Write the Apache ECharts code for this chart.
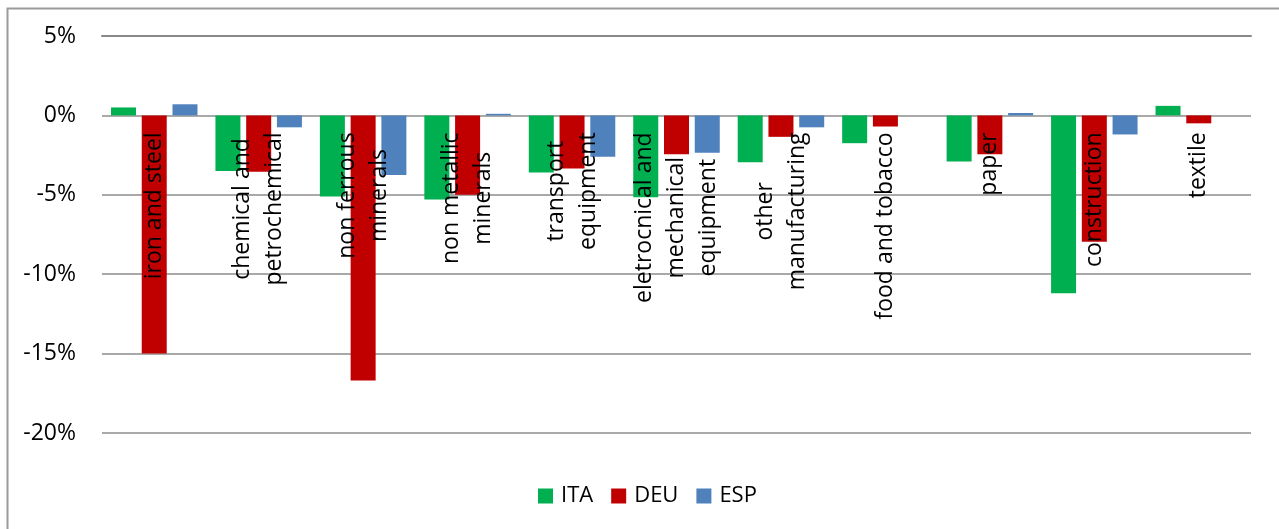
<!DOCTYPE html>
<html>
<head>
<meta charset="utf-8">
<style>
  html, body { margin: 0; padding: 0; background: #ffffff; }
  #chart { width: 1279px; height: 529px; }
</style>
<script src="https://cdn.jsdelivr.net/npm/echarts@6/dist/echarts.min.js"></script>
</head>
<body>
<div id="chart"></div>
<script>
// Sectors (line breaks as shown under each group)
const categories = [
  'iron and steel',
  'chemical and\npetrochemical',
  'non ferrous\nminerals',
  'non metallic\nminerals',
  'transport\nequipment',
  'eletrocnical and\nmechanical\nequipment',
  'other\nmanufacturing',
  'food and tobacco',
  'paper',
  'construction',
  'textile'
];

// Percentage change by country
const ita = [0.5, -3.5, -5.1, -5.3, -3.6, -5.15, -2.95, -1.75, -2.9, -11.2, 0.6];
const deu = [-15.0, -3.55, -16.7, -5.0, -3.35, -2.45, -1.35, -0.7, -2.45, -7.95, -0.5];
const esp = [0.7, -0.75, -3.75, 0.1, -2.6, -2.35, -0.75, null, 0.15, -1.2, null];

// Value axis range and tick step
const yMin = -20;
const yMax = 5;
const yStep = 5;

const seriesNames = ['ITA', 'DEU', 'ESP'];
const seriesColors = ['#00B050', '#C00000', '#4F81BD'];
const seriesData = [ita, deu, esp];

const W = 1279, H = 529;
const gridBox = { left: 102, right: 28, top: 36, bottom: 96 };
const plotHeight = H - gridBox.top - gridBox.bottom;
// Category labels hang just under the zero line, so the label axis is lifted there
const zeroLift = plotHeight * (0 - yMin) / (yMax - yMin);

const chart = echarts.init(document.getElementById('chart'), null, { renderer: 'canvas' });

const FONT = '"Open Sans", "Liberation Sans", sans-serif';

chart.setOption({
  animation: false,
  backgroundColor: '#ffffff',
  textStyle: { fontFamily: FONT, color: '#000000' },
  graphic: [
    {
      type: 'rect',
      left: 5,
      top: 6,
      shape: { width: 1400, height: 600 },
      style: { fill: 'none', stroke: '#9a9a9a', lineWidth: 2 },
      silent: true,
      z: -10
    }
  ],
  grid: {
    left: gridBox.left, right: gridBox.right, top: gridBox.top, bottom: gridBox.bottom,
    containLabel: false,
    outerBoundsMode: 'none'
  },
  legend: {
    data: seriesNames,
    left: 533,
    top: 480,
    itemWidth: 15,
    itemHeight: 15,
    itemGap: 18,
    icon: 'rect',
    textStyle: { fontFamily: FONT, fontSize: 22, color: '#000000', padding: [0, 0, 0, 3] }
  },
  xAxis: [
    {
      // category labels
      type: 'category',
      data: categories,
      position: 'bottom',
      offset: -zeroLift,
      axisLine: { show: false },
      axisTick: { show: false },
      axisLabel: {
        interval: 0,
        rotate: 90,
        margin: 17,
        fontFamily: FONT,
        fontSize: 23,
        color: '#000000',
        formatter: function (v) {
          return v.split('\n').map(function (s) { return '{c|' + s + '}'; }).join('\n');
        },
        rich: {
          c: { align: 'center', fontFamily: FONT, fontSize: 23, lineHeight: 32, color: '#000000' }
        }
      },
      splitLine: { show: false },
      z: 10
    },
    {
      // zero baseline
      type: 'category',
      data: categories,
      axisLine: { onZero: true, lineStyle: { color: '#888888', width: 2 } },
      axisTick: { show: false },
      axisLabel: { show: false },
      splitLine: { show: false },
      z: 5
    }
  ],
  yAxis: {
    type: 'value',
    min: yMin,
    max: yMax,
    interval: yStep,
    axisLine: { show: false },
    axisTick: { show: false },
    axisLabel: {
      margin: 26,
      fontFamily: FONT,
      fontSize: 23,
      color: '#000000',
      formatter: function (v) { return v + '%'; }
    },
    splitLine: { lineStyle: { color: '#8c8c8c', width: 1.5 } }
  },
  series: seriesNames.map(function (name, i) {
    return {
      name: name,
      type: 'bar',
      xAxisIndex: 0,
      data: seriesData[i],
      barWidth: 25,
      barGap: '23%',
      itemStyle: { color: seriesColors[i] },
      z: 2
    };
  })
});
</script>
</body>
</html>
